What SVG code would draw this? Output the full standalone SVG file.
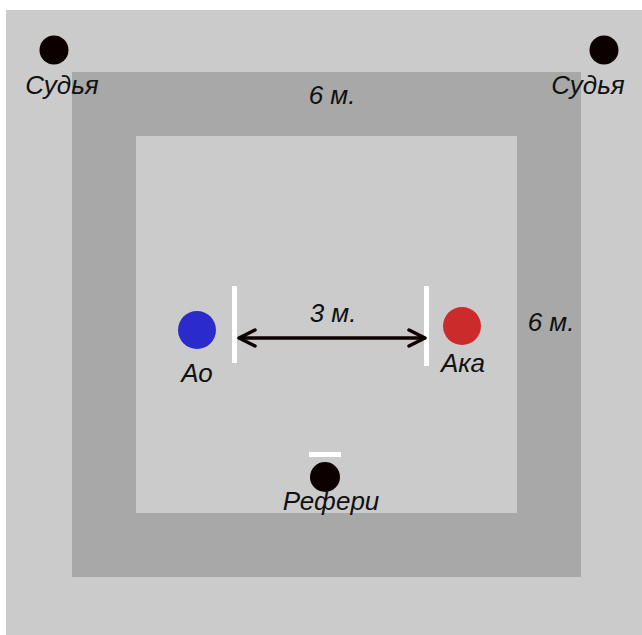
<svg xmlns="http://www.w3.org/2000/svg" width="642" height="635" viewBox="0 0 642 635">
<style>
.t{font-family:"Liberation Sans",Arial,sans-serif;font-style:italic;font-size:26px;fill:#111;}
.person{fill:#0c0000;}
.wl{fill:#ffffff;}
</style>
<defs>
<marker id="ah" viewBox="0 0 20 20" refX="18" refY="10" markerWidth="20" markerHeight="20" markerUnits="userSpaceOnUse" orient="auto-start-reverse">
<path d="M2,2 L18,10 L2,18" fill="none" stroke="#0c0000" stroke-width="3.5" stroke-linecap="round" stroke-linejoin="round"/>
</marker>
</defs>
<rect width="642" height="635" fill="#ffffff"/>
<g id="floor">
<rect x="6" y="10" width="636" height="625" fill="#cbcbcb"/>
<rect x="72" y="72" width="509" height="505" fill="#a8a8a8"/>
<rect x="136" y="136" width="381" height="377" fill="#cbcbcb"/>
</g>
<g id="judge-left">
<circle class="person" cx="54" cy="50" r="14.5"/>
<text class="t" x="62" y="94" text-anchor="middle">Судья</text>
</g>
<g id="judge-right">
<circle class="person" cx="604" cy="50" r="14.5"/>
<text class="t" x="588" y="94" text-anchor="middle">Судья</text>
</g>
<g id="label-top">
<text class="t" x="332" y="104" text-anchor="middle">6 м.</text>
</g>
<g id="label-right">
<text class="t" x="551" y="331" text-anchor="middle">6 м.</text>
</g>
<g id="ao">
<circle cx="197" cy="330" r="19" fill="#2b2bcc"/>
<rect class="wl" x="232" y="286" width="5" height="77"/>
<text class="t" x="197" y="382" text-anchor="middle">Ао</text>
</g>
<g id="aka">
<circle cx="462" cy="326" r="19" fill="#cc2b2b"/>
<rect class="wl" x="424" y="286" width="5" height="80"/>
<text class="t" x="463" y="372" text-anchor="middle">Ака</text>
</g>
<g id="referee">
<rect class="wl" x="309" y="452" width="32" height="5"/>
<circle class="person" cx="325" cy="477" r="15"/>
<text class="t" x="331" y="510" text-anchor="middle">Рефери</text>
</g>
<g id="connectors">
<line x1="239" y1="338" x2="425" y2="338" stroke="#0c0000" stroke-width="3.5" marker-start="url(#ah)" marker-end="url(#ah)"/>
<text class="t" x="333" y="322" text-anchor="middle">3 м.</text>
</g>
</svg>
